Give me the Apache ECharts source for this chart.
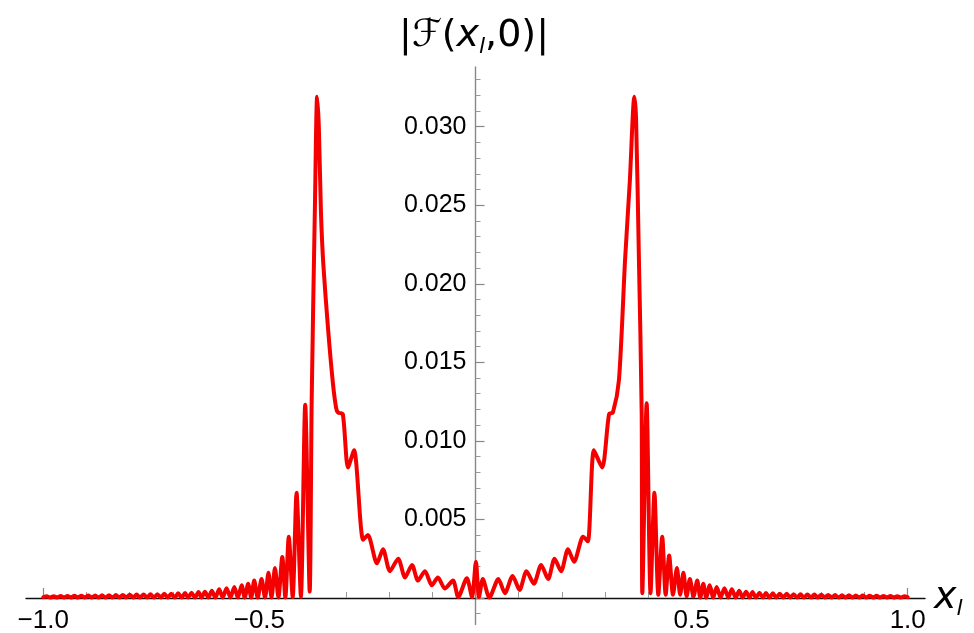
<!DOCTYPE html>
<html><head><meta charset="utf-8">
<script src="https://cdn.jsdelivr.net/npm/echarts@6/dist/echarts.min.js"></script>
<style>html,body{margin:0;padding:0;background:#fff}#c{width:974px;height:633px}</style>
</head><body><div id="c"></div>
<script>
// ---- data ----
const xs = [
 -1.000,-0.992,-0.984,-0.976,-0.968,-0.960,-0.952,-0.944,-0.936,-0.928,-0.920,-0.912,-0.904,-0.896,-0.888,-0.880,-0.872,-0.864,-0.856,-0.848,-0.840,
 -0.832,-0.824,-0.816,-0.808,-0.800,-0.792,-0.784,-0.776,-0.768,-0.760,-0.752,-0.744,-0.736,-0.728,-0.720,-0.712,-0.704,-0.696,-0.688,-0.680,
 -0.672,-0.665,-0.657,-0.649,-0.641,-0.634,-0.626,-0.618,-0.610,-0.602,-0.593,-0.585,-0.576,-0.567,-0.558,-0.550,-0.541,-0.534,-0.526,-0.519,
 -0.512,-0.504,-0.495,-0.487,-0.479,-0.472,-0.464,-0.456,-0.447,-0.440,-0.432,-0.423,-0.414,-0.404,-0.394,-0.3836,
 -0.379,-0.3713,-0.3665,-0.3625,-0.3575,-0.352,-0.341,-0.330,-0.3225,-0.318,-0.307,-0.295,-0.281,-0.260,-0.249,-0.228,-0.214,-0.198,-0.179,-0.163,
 -0.147,-0.133,-0.117,-0.101,-0.087,-0.071,-0.052,-0.040,-0.020,-0.008,0.001,
 0.008,0.017,0.032,0.053,0.068,0.086,0.102,0.118,0.135,0.152,0.168,0.183,0.198,0.214,0.228,0.249,0.260,0.274,0.293,0.309,0.318,0.332,0.346,0.357,
 0.3675,0.3715,0.378,0.3845,0.386,
 0.396,0.405,0.414,0.423,0.432,0.440,0.448,0.457,0.466,0.4735,0.481,0.4885,0.496,0.5045,0.513,0.520,0.527,0.534,0.542,0.550,0.558,0.567,
 0.576,0.585,0.593,0.602,0.610,0.618,0.626,0.634,0.641,0.649,0.657,0.665,0.672,
 0.680,0.688,0.696,0.704,0.712,0.720,0.728,0.736,0.744,0.752,0.760,0.768,0.776,0.784,0.792,0.800,0.808,0.816,0.824,0.832,0.840,
 0.848,0.856,0.864,0.872,0.880,0.888,0.896,0.904,0.912,0.920,0.928,0.936,0.944,0.952,0.960,0.968,0.976,0.984,0.992,1.000
];
const ys = [
 0.00005,0.00010,0.00002,0.00011,0.00002,0.00012,0.00002,0.00012,0.00002,0.00013,0.00002,0.00014,0.00002,0.00015,0.00002,0.00016,0.00002,0.00017,0.00002,0.00017,0.00002,
 0.00018,0.00002,0.00019,0.00002,0.00020,0.00002,0.00021,0.00002,0.00022,0.00002,0.00023,0.00002,0.00024,0.00002,0.00026,0.00002,0.00027,0.00002,0.00029,0.00002,
 0.00031,0.00002,0.00033,0.00002,0.00037,0.00002,0.00039,0.00002,0.00045,0.00002,0.00055,0.00002,0.00062,0.00002,0.00070,0.00002,0.00080,0.00002,0.00090,0.00002,
 0.00110,0.00002,0.00120,0.00002,0.00160,0.00003,0.00190,0.00003,0.00260,0.00003,0.00390,0.00005,0.00670,0.00008,0.01230,0.00040,
 0.01260,0.02530,0.03190,0.03000,0.02450,0.02120,0.01710,0.01370,0.01210,0.01180,0.01170,0.00830,0.00940,0.00370,0.00400,0.00220,0.00310,0.00170,0.00250,0.00130,
 0.00210,0.00110,0.00170,0.00080,0.00130,0.00060,0.00110,0.00005,0.00125,0.00005,0.00230,
 0.00005,0.00120,0.00002,0.00120,0.00030,0.00140,0.00050,0.00170,0.00090,0.00210,0.00120,0.00250,0.00170,0.00310,0.00230,0.00390,0.00360,0.00940,0.00830,0.01170,0.01180,0.01390,0.02150,0.02650,
 0.03190,0.03050,0.02170,0.01180,0.00030,
 0.01240,0.00030,0.00670,0.00020,0.00390,0.00020,0.00270,0.00020,0.00190,0.00020,0.00160,0.00010,0.00120,0.00010,0.00110,0.00002,0.00090,0.00002,0.00080,0.00002,0.00070,0.00002,
 0.00062,0.00002,0.00055,0.00002,0.00045,0.00002,0.00039,0.00002,0.00037,0.00002,0.00033,0.00002,0.00031,
 0.00002,0.00029,0.00002,0.00027,0.00002,0.00026,0.00002,0.00024,0.00002,0.00023,0.00002,0.00022,0.00002,0.00021,0.00002,0.00020,0.00002,0.00019,0.00002,0.00018,0.00002,
 0.00017,0.00002,0.00017,0.00002,0.00016,0.00002,0.00015,0.00002,0.00014,0.00002,0.00013,0.00002,0.00012,0.00002,0.00012,0.00002,0.00011,0.00002,0.00010,0.00005
];
const xTickLabels = [-1.0, -0.5, 0.5, 1.0];
const xMinorTicks = [-0.9,-0.8,-0.7,-0.6,-0.4,-0.3,-0.2,-0.1,0.1,0.2,0.3,0.4,0.6,0.7,0.8,0.9];
const yTickLabels = [0.005, 0.010, 0.015, 0.020, 0.025, 0.030];
const yMinorTicks = [-0.001,0.001,0.002,0.003,0.004,0.006,0.007,0.008,0.009,0.011,0.012,0.013,0.014,
  0.016,0.017,0.018,0.019,0.021,0.022,0.023,0.024,0.026,0.027,0.028,0.029,0.031,0.032,0.033];

const X_MIN = -1.04, X_MAX = 1.04, Y_MIN = -0.0017, Y_MAX = 0.0338;
const labelFont = 'Liberation Sans, Arial, sans-serif';
const mathFont = 'DejaVu Sans, sans-serif';

const chart = echarts.init(document.getElementById('c'), null, {renderer: 'canvas'});
const data = xs.map((x, i) => [x, ys[i]]);

const hidden = {show: false, axisLine: {show: false, onZero: false}, axisTick: {show: false}, axisLabel: {show: false}, splitLine: {show: false}};
const gridBase = {containLabel: false, outerBoundsMode: 'none'};

chart.setOption({
  animation: false,
  backgroundColor: '#ffffff',
  grid: [
    Object.assign({left: 26, right: 49, top: 67, bottom: 8.4}, gridBase),   // plot area (data)
    Object.assign({left: 26, right: 49, top: 67, bottom: 35}, gridBase),    // horizontal axis at y = 0
    Object.assign({left: 475.5, width: 20, top: 67, bottom: 8.4}, gridBase) // vertical axis at x = 0
  ],
  xAxis: [
    Object.assign({type: 'value', gridIndex: 0, min: X_MIN, max: X_MAX}, hidden),
    {
      type: 'value', gridIndex: 1, min: X_MIN, max: X_MAX, position: 'bottom',
      splitLine: {show: false},
      axisLine: {show: true, onZero: false, lineStyle: {color: '#111', width: 1.4}},
      axisTick: {show: true, inside: true, length: 10, customValues: xTickLabels, lineStyle: {color: '#888', width: 1.2}},
      axisLabel: {show: true, customValues: xTickLabels, margin: 10, fontSize: 26, color: '#000', fontFamily: labelFont,
        formatter: v => v.toFixed(1).replace('-', '\u2212')}
    },
    {
      type: 'value', gridIndex: 1, min: X_MIN, max: X_MAX, position: 'bottom',
      splitLine: {show: false},
      axisLine: {show: false, onZero: false},
      axisTick: {show: true, inside: true, length: 6, customValues: xMinorTicks, lineStyle: {color: '#999', width: 1}},
      axisLabel: {show: false}
    },
    Object.assign({type: 'value', gridIndex: 2, min: 0, max: 1}, hidden)
  ],
  yAxis: [
    Object.assign({type: 'value', gridIndex: 0, min: Y_MIN, max: Y_MAX}, hidden),
    Object.assign({type: 'value', gridIndex: 1, min: 0, max: Y_MAX}, hidden),
    {
      type: 'value', gridIndex: 2, min: Y_MIN, max: Y_MAX, position: 'left',
      splitLine: {show: false},
      axisLine: {show: true, onZero: false, lineStyle: {color: '#888', width: 1.4}},
      axisTick: {show: true, inside: true, length: 9, customValues: [0].concat(yTickLabels), lineStyle: {color: '#888', width: 1.2}},
      axisLabel: {show: true, customValues: yTickLabels, margin: 9, fontSize: 25, color: '#000', fontFamily: labelFont,
        formatter: v => v.toFixed(3)}
    },
    {
      type: 'value', gridIndex: 2, min: Y_MIN, max: Y_MAX, position: 'left',
      splitLine: {show: false},
      axisLine: {show: false, onZero: false},
      axisTick: {show: true, inside: true, length: 5, customValues: yMinorTicks, lineStyle: {color: '#999', width: 1}},
      axisLabel: {show: false}
    }
  ],
  series: [{
    type: 'line',
    xAxisIndex: 0, yAxisIndex: 0,
    data: data,
    showSymbol: false,
    smooth: 0.25,
    clip: false,
    z: 5,
    lineStyle: {color: '#f40000', width: 4, cap: 'round', join: 'round'}
  }],
  graphic: [
    {
      type: 'text', x: 474, y: 14, z: 10,
      style: {
        text: '{n||ℱ(}{i|x}{s|l}{n|,0)|}',
        align: 'center', verticalAlign: 'top',
        rich: {
          n: {fontFamily: mathFont, fontSize: 38, lineHeight: 44, fill: '#000'},
          i: {fontFamily: mathFont, fontSize: 38, fontStyle: 'italic', lineHeight: 44, fill: '#000'},
          s: {fontFamily: mathFont, fontSize: 22, fontStyle: 'italic', lineHeight: 30, verticalAlign: 'bottom', fill: '#000'}
        }
      }
    },
    {
      type: 'text', x: 934, y: 598, z: 10,
      style: {
        text: '{i|x}{s|l}',
        align: 'left', verticalAlign: 'middle',
        rich: {
          i: {fontFamily: mathFont, fontSize: 38, fontStyle: 'italic', lineHeight: 44, fill: '#000'},
          s: {fontFamily: mathFont, fontSize: 22, fontStyle: 'italic', lineHeight: 30, verticalAlign: 'bottom', fill: '#000'}
        }
      }
    }
  ]
});
</script>
</body></html>
